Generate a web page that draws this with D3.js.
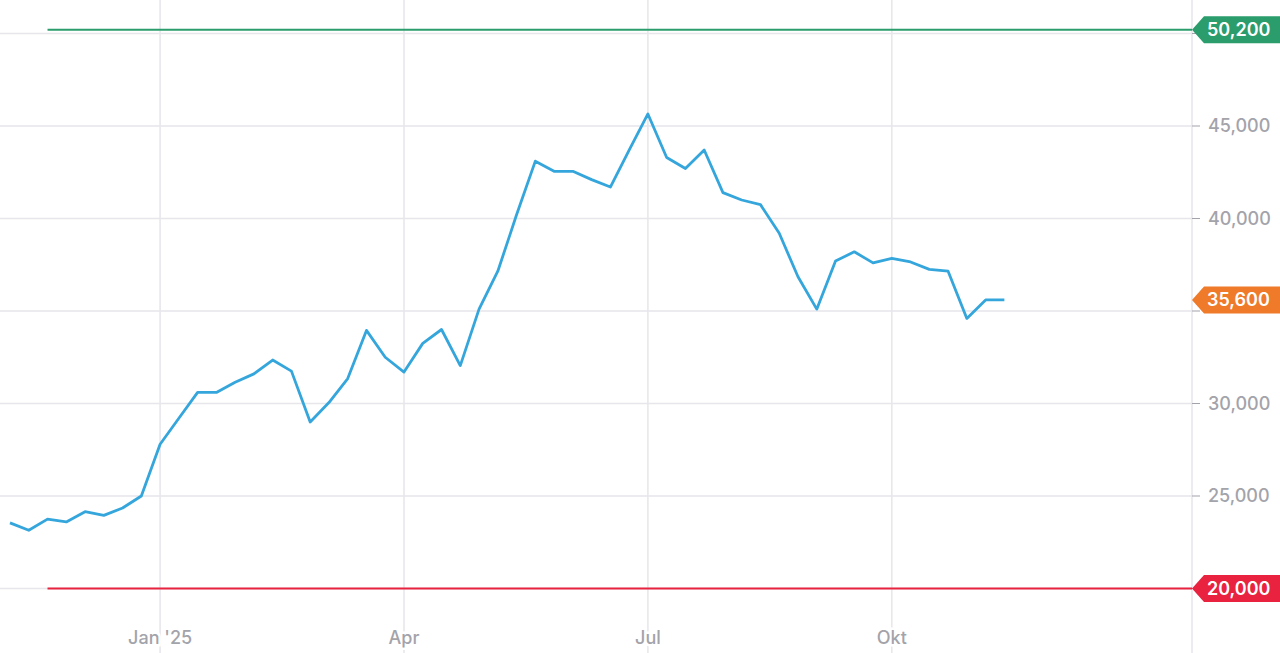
<!DOCTYPE html>
<html>
<head>
<meta charset="utf-8">
<script src="https://cdn.jsdelivr.net/npm/d3@7"></script>
<style>
  html, body { margin: 0; padding: 0; background: #fff; }
  svg { display: block; font-family: Inter, "Open Sans", sans-serif; }
</style>
</head>
<body>
<svg id="chart" width="1280" height="653"></svg>
<script>
// weekly closing values, first week starts 2024-11-06
var firstWeek = "2024-11-06";
var values = [23550, 23150, 23750, 23600, 24150, 23950, 24350, 25000, 27800, 29200,
              30600, 30600, 31150, 31600, 32350, 31750, 29000, 30050, 31350, 33950,
              32500, 31700, 33250, 34000, 32050, 35100, 37150, 40200, 43100, 42550,
              42550, 42100, 41700, 43700, 45650, 43300, 42700, 43700, 41400, 41000,
              40750, 39200, 36850, 35100, 37700, 38200, 37600, 37850, 37650, 37250,
              37150, 34600, 35600, 35600];

var xTickDates = ["2025-01-01", "2025-04-02", "2025-07-02", "2025-10-01"];
var xTickLabels = ["Jan '25", "Apr", "Jul", "Okt"];
var yTicks = [20000, 25000, 30000, 35000, 40000, 45000, 50000];

// target / stop levels drawn as flat lines with tags
var levelValues = [50200, 20000];
var levelColors = ["#2b9c6c", "#e8223f"];
var levelStart = "2024-11-20";

var parse = d3.timeParse("%Y-%m-%d");
var start = parse(firstWeek);
var data = values.map(function(v, i){
    return {date: d3.timeDay.offset(start, 7 * i), value: v};
});

var W = 1280, H = 653, axisX = 1192;
var svg = d3.select("#chart");

var x = d3.scaleTime()
    .domain([start, d3.timeDay.offset(start, 7 * 63)])
    .range([10, axisX]);
var y = d3.scaleLinear()
    .domain([20000, 50000])
    .range([588.5, 33.5]);

var fmt = d3.format(",");

// tags on the right axis
var tags = levelValues.map(function(v, i){ return {value: v, color: levelColors[i]}; });
tags.push({value: values[values.length - 1], color: "#ef7a2a"});

// horizontal grid
svg.append("g").selectAll("line")
    .data(yTicks).enter().append("line")
    .attr("x1", 0).attr("x2", axisX)
    .attr("y1", function(d){ return y(d); })
    .attr("y2", function(d){ return y(d); })
    .attr("stroke", "#e6e6eb").attr("stroke-width", 1.5);

// vertical grid + x labels
var xg = svg.append("g");
xg.selectAll("line")
    .data(xTickDates).enter().append("line")
    .attr("x1", function(d){ return x(parse(d)); })
    .attr("x2", function(d){ return x(parse(d)); })
    .attr("y1", 0).attr("y2", H)
    .attr("stroke", "#e6e6eb").attr("stroke-width", 1.5);
xg.selectAll("text")
    .data(xTickDates).enter().append("text")
    .attr("x", function(d){ return x(parse(d)); })
    .attr("y", 644)
    .attr("text-anchor", "middle")
    .attr("font-size", 18).attr("font-weight", 500)
    .attr("fill", "#a3a3aa")
    .attr("stroke", "#fff").attr("stroke-width", 5)
    .attr("paint-order", "stroke")
    .text(function(d, i){ return xTickLabels[i]; });

// right axis
svg.append("line")
    .attr("x1", axisX).attr("x2", axisX).attr("y1", 0).attr("y2", H)
    .attr("stroke", "#e6e6eb").attr("stroke-width", 1.5);
var yg = svg.append("g");
yg.selectAll("line")
    .data(yTicks).enter().append("line")
    .attr("x1", axisX).attr("x2", axisX + 8)
    .attr("y1", function(d){ return y(d); })
    .attr("y2", function(d){ return y(d); })
    .attr("stroke", "#a3a3aa").attr("stroke-width", 1);
// labels hidden where a tag sits on top of them
var freeTicks = yTicks.filter(function(t){
    return tags.every(function(g){ return Math.abs(y(t) - y(g.value)) > 24; });
});
yg.selectAll("text")
    .data(freeTicks).enter().append("text")
    .attr("x", axisX + 16)
    .attr("y", function(d){ return y(d); })
    .attr("dy", "0.36em")
    .attr("font-size", 18).attr("font-weight", 500)
    .attr("fill", "#a3a3aa")
    .text(function(d){ return fmt(d); });

// level lines
svg.append("g").selectAll("line")
    .data(levelValues).enter().append("line")
    .attr("x1", x(parse(levelStart))).attr("x2", axisX)
    .attr("y1", function(d){ return y(d); })
    .attr("y2", function(d){ return y(d); })
    .attr("stroke", function(d, i){ return levelColors[i]; })
    .attr("stroke-width", 2);

// price line
var line = d3.line()
    .x(function(d){ return x(d.date); })
    .y(function(d){ return y(d.value); });
svg.append("path")
    .datum(data)
    .attr("d", line)
    .attr("fill", "none")
    .attr("stroke", "#35a6dc")
    .attr("stroke-width", 2.8)
    .attr("stroke-linejoin", "round");

function tagPath(cy){
    var h = 13.5, a = 12;
    return "M" + axisX + "," + cy +
        "L" + (axisX + a) + "," + (cy - h) +
        "L" + (W + 10) + "," + (cy - h) +
        "L" + (W + 10) + "," + (cy + h) +
        "L" + (axisX + a) + "," + (cy + h) + "Z";
}
var tg = svg.append("g").selectAll("g")
    .data(tags).enter().append("g");
tg.append("path")
    .attr("d", function(d){ return tagPath(y(d.value)); })
    .attr("fill", function(d){ return d.color; });
tg.append("text")
    .attr("x", axisX + 15)
    .attr("y", function(d){ return y(d.value); })
    .attr("dy", "0.36em")
    .attr("font-size", 18).attr("font-weight", 600)
    .attr("fill", "#fff")
    .text(function(d){ return fmt(d.value); });
</script>
</body>
</html>
